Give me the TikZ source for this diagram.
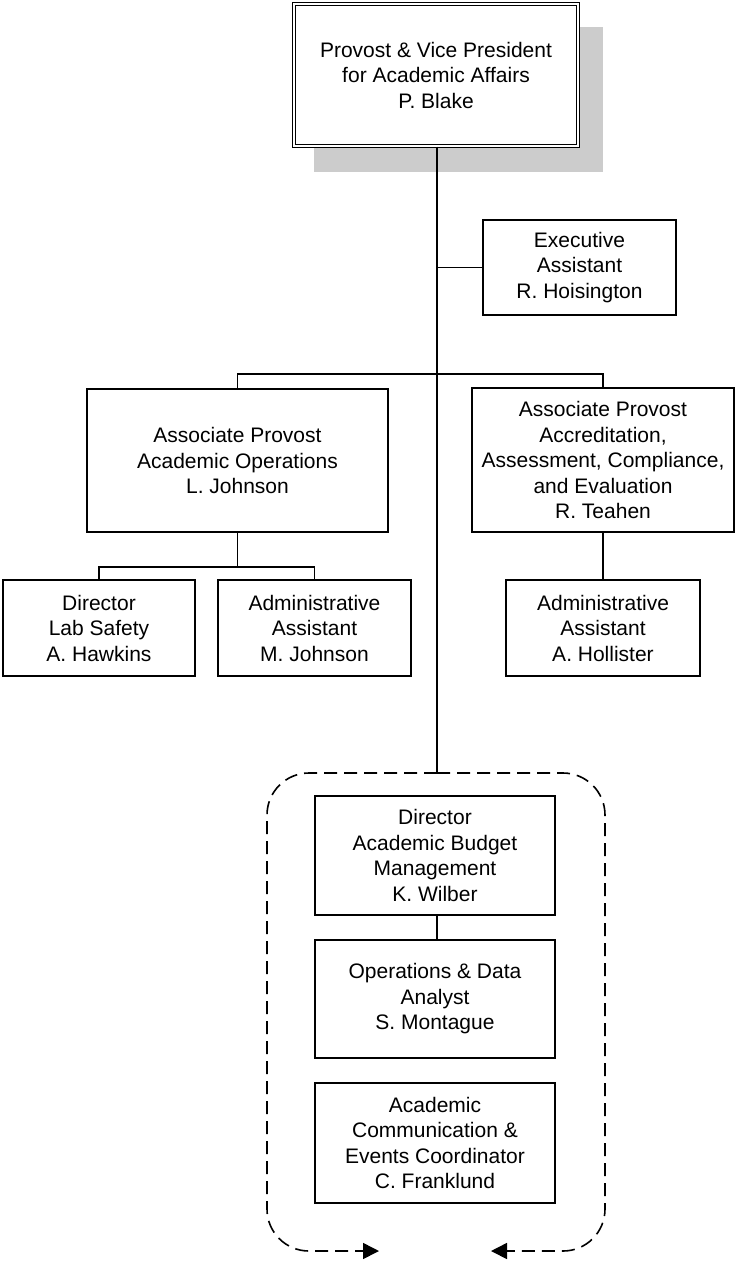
\documentclass[tikz,border=0pt]{standalone}
\usepackage{fontspec}
\setmainfont{Liberation Sans}
\usetikzlibrary{arrows.meta}

\begin{document}
\begin{tikzpicture}[x=1pt,y=-1pt,
    box/.style={draw,line width=1.9pt,align=center,inner sep=0pt,
        font=\fontsize{21}{25.5}\selectfont},
    link/.style={line width=1.9pt},
    group/.style={line width=1.6pt,dash pattern=on 13pt off 7pt,rounded corners=42pt}]
     \useasboundingbox (0,0) rectangle (734,1261);
     % shadow first, then the provost box
     \fill[black!20] (314,27) rectangle (603,172);
     \node[box,fill=white,line width=1.4pt,double,double distance=2pt,
        minimum width=284pt,minimum height=142pt](top) at (436,75)
        {Provost \& Vice President\\for Academic Affairs\\P. Blake};
     \node[box,minimum width=193pt,minimum height=95pt](exec) at (579.5,267.5)
        {Executive\\Assistant\\R. Hoisington};
     \node[box,minimum width=301pt,minimum height=143pt](apL) at (237.5,460.5)
        {Associate Provost\\Academic Operations\\L. Johnson};
     \node[box,minimum width=262pt,minimum height=144pt](apR) at (603,460)
        {Associate Provost\\Accreditation,\\Assessment, Compliance,\\and Evaluation\\R. Teahen};
     \node[box,minimum width=192pt,minimum height=96pt](lab) at (99,628)
        {Director\\Lab Safety\\A. Hawkins};
     \node[box,minimum width=193pt,minimum height=96pt](mjo) at (314.5,628)
        {Administrative\\Assistant\\M. Johnson};
     \node[box,minimum width=194pt,minimum height=96pt](aho) at (603,628)
        {Administrative\\Assistant\\A. Hollister};
     \node[box,minimum width=240pt,minimum height=119pt](budget) at (435,855.5)
        {Director\\Academic Budget\\Management\\K. Wilber};
     \node[box,minimum width=240pt,minimum height=118pt](analyst) at (435,999)
        {Operations \& Data\\Analyst\\S. Montague};
     \node[box,minimum width=240pt,minimum height=120pt](events) at (435,1143)
        {Academic\\Communication \&\\Events Coordinator\\C. Franklund};
     \coordinate(grp) at (437,773);
     % connectors
     \draw[link] (top.south -| grp) -- (grp);
     \draw[link] (grp |- exec.west) -- (exec.west);
     \draw[link] (apL.north) -- ++(0,-14) -| (apR.north);
     \draw[link] (apL.south) -- ([yshift=12pt]apL.south |- lab.north);
     \draw[link] (lab.north) -- ++(0,-12) -| (mjo.north);
     \draw[link] (apR.south) -- (aho.north);
     \draw[link] (budget.south -| grp) -- (analyst.north -| grp);
     % dashed group round the budget office
     \draw[group,-{Triangle[length=16pt,width=16pt]}]
        (grp) -- (267,773) --
        (267,1251) -- (379,1251);
     \draw[group,-{Triangle[length=16pt,width=16pt]}]
        (grp) -- (605,773) --
        (605,1251) -- (491,1251);
\end{tikzpicture}
\end{document}
